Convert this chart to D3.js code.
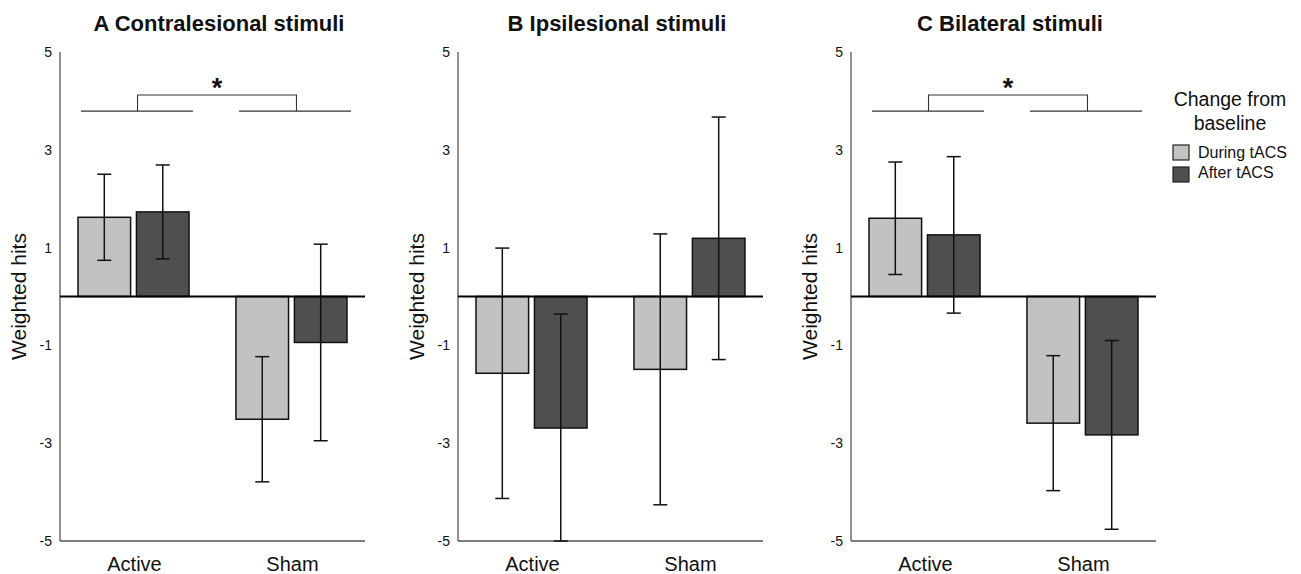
<!DOCTYPE html>
<html>
<head>
<meta charset="utf-8">
<script src="https://cdn.jsdelivr.net/npm/d3@7"></script>
<style>
  body { margin: 0; background: #fff; }
  text { font-family: "Liberation Sans", Arial, sans-serif; fill: #111; }
</style>
</head>
<body>
<svg id="mainsvg" width="1301" height="574"></svg>
<script>
// data
const groups = ['Active', 'Sham']
const series = ['During tACS', 'After tACS']
const panelTitles = ['A Contralesional stimuli', 'B Ipsilesional stimuli', 'C Bilateral stimuli']
// means [panel][group][series]
const means = [
  [[1.62, 1.73], [-2.51, -0.94]],
  [[-1.57, -2.69], [-1.49, 1.19]],
  [[1.60, 1.26], [-2.59, -2.83]]
]
// half-width of error bars
const errs = [
  [[0.88, 0.96], [1.28, 2.01]],
  [[2.56, 2.33], [2.77, 2.48]],
  [[1.15, 1.60], [1.38, 1.93]]
]
const significant = [true, false, true]
const yTicks = [5, 3, 1, -1, -3, -5]
const colors = ['#c2c2c2', '#4f4f4f']

const svg = d3.select('#mainsvg')
const panelX = [60, 458, 851]
const panelW = 305
const plotTop = 52, plotBottom = 541

const y = d3.scaleLinear().domain([-5, 5]).range([plotBottom, plotTop])
const x0 = d3.scaleBand().domain(groups).range([0, panelW])
  .paddingInner(0.297).paddingOuter(0.114)
const x1 = d3.scaleBand().domain(series).range([0, x0.bandwidth()])
  .paddingInner(0.1).paddingOuter(0)

panelTitles.forEach((title, p) => {
  const g = svg.append('g').attr('transform', `translate(${panelX[p]},0)`)

  g.append('text').attr('x', 159).attr('y', 31)
    .attr('text-anchor', 'middle').attr('font-weight', 'bold').attr('font-size', 22)
    .text(title)

  // y axis: line + labels only
  g.append('line').attr('x1', 0).attr('x2', 0).attr('y1', y(5)).attr('y2', y(-5))
    .attr('stroke', '#555').attr('stroke-width', 1.3)
  g.append('line').attr('x1', 0).attr('x2', panelW).attr('y1', y(-5)).attr('y2', y(-5))
    .attr('stroke', '#555').attr('stroke-width', 1.3)
  g.selectAll('.tick').data(yTicks).join('text').attr('class', 'tick')
    .attr('x', -8).attr('y', d => y(d) + 5)
    .attr('text-anchor', 'end').attr('font-size', 14)
    .text(d => d)

  g.append('text')
    .attr('transform', `translate(-34,${y(0)}) rotate(-90)`)
    .attr('text-anchor', 'middle').attr('font-size', 21)
    .text('Weighted hits')

  // x labels
  g.selectAll('.xl').data(groups).join('text').attr('class', 'xl')
    .attr('x', d => x0(d) + x0.bandwidth() / 2 + 1).attr('y', 571)
    .attr('text-anchor', 'middle').attr('font-size', 20)
    .text(d => d)

  // bars
  const rows = []
  groups.forEach((gr, i) => series.forEach((s, j) => {
    rows.push({ group: gr, series: s, j, mean: means[p][i][j], err: errs[p][i][j] })
  }))

  g.selectAll('rect.bar').data(rows).join('rect').attr('class', 'bar')
    .attr('x', d => x0(d.group) + x1(d.series))
    .attr('width', x1.bandwidth())
    .attr('y', d => y(Math.max(0, d.mean)))
    .attr('height', d => Math.abs(y(d.mean) - y(0)))
    .attr('fill', d => colors[d.j])
    .attr('stroke', '#111').attr('stroke-width', 1.5)

  // zero line
  g.append('line').attr('x1', 0).attr('x2', panelW).attr('y1', y(0)).attr('y2', y(0))
    .attr('stroke', '#000').attr('stroke-width', 1.8)

  // error bars
  const cx = d => x0(d.group) + x1(d.series) + x1.bandwidth() / 2
  const eb = g.selectAll('g.err').data(rows).join('g').attr('class', 'err')
    .attr('stroke', '#111').attr('stroke-width', 1.5)
  eb.append('line').attr('x1', cx).attr('x2', cx)
    .attr('y1', d => y(d.mean + d.err)).attr('y2', d => y(Math.max(-5, d.mean - d.err)))
  eb.append('line').attr('x1', d => cx(d) - 7).attr('x2', d => cx(d) + 7)
    .attr('y1', d => y(d.mean + d.err)).attr('y2', d => y(d.mean + d.err))
  eb.append('line').attr('x1', d => cx(d) - 7).attr('x2', d => cx(d) + 7)
    .attr('y1', d => y(Math.max(-5, d.mean - d.err))).attr('y2', d => y(Math.max(-5, d.mean - d.err)))

  // significance bracket
  if (significant[p]) {
    const lo = y(3.79), hi = y(4.12)
    const br = g.append('g').attr('stroke', '#333').attr('stroke-width', 1.1).attr('fill', 'none')
    groups.forEach(gr => {
      br.append('line').attr('x1', x0(gr) + 3).attr('x2', x0(gr) + x0.bandwidth() + 4)
        .attr('y1', lo).attr('y2', lo)
    })
    const a = x0('Active') + x0.bandwidth() / 2 + 4
    const b = x0('Sham') + x0.bandwidth() / 2 + 5
    br.append('path').attr('d', `M${a},${lo}V${hi}H${b}V${lo}`)
    g.append('text').attr('x', (a + b) / 2).attr('y', 97)
      .attr('text-anchor', 'middle').attr('font-size', 27).attr('font-weight', 'bold')
      .text('*')
  }
})

// legend
const lg = svg.append('g').attr('transform', 'translate(1173,0)')
lg.append('text').attr('x', 57).attr('y', 106).attr('text-anchor', 'middle')
  .attr('font-size', 19.5).text('Change from')
lg.append('text').attr('x', 57).attr('y', 130).attr('text-anchor', 'middle')
  .attr('font-size', 19.5).text('baseline')
series.forEach((s, j) => {
  lg.append('rect').attr('x', 0).attr('y', 145 + j * 22).attr('width', 16).attr('height', 15)
    .attr('fill', colors[j]).attr('stroke', '#222').attr('stroke-width', 1.2)
  lg.append('text').attr('x', 25).attr('y', 158 + j * 20).attr('font-size', 16).text(s)
})
</script>
</body>
</html>
